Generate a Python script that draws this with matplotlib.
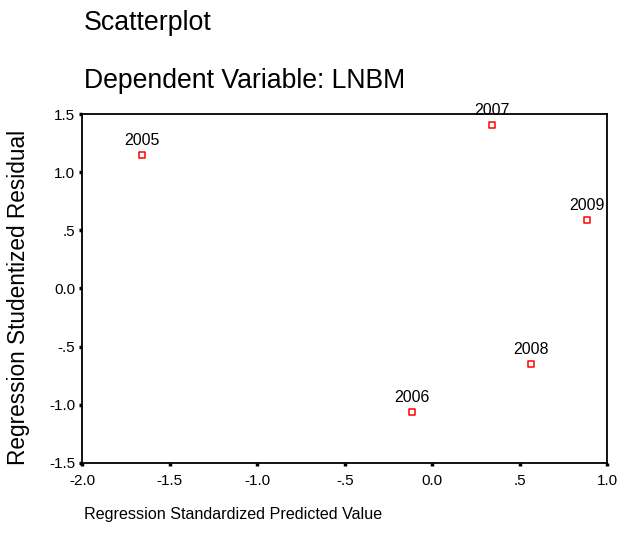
import matplotlib
matplotlib.use("Agg")
import matplotlib.pyplot as plt
import numpy as np

# === data ===
years = ['2005', '2006', '2007', '2008', '2009']
pred_std = [-1.66, -0.116, 0.341, 0.564, 0.884]      # Regression Standardized Predicted Value
resid_stud = [1.149, -1.06, 1.408, -0.651, 0.59]     # Regression Studentized Residual

x_ticks = [-2.0, -1.5, -1.0, -0.5, 0.0, 0.5, 1.0]
x_ticklabels = ['-2.0', '-1.5', '-1.0', '-.5', '0.0', '.5', '1.0']
y_ticks = [-1.5, -1.0, -0.5, 0.0, 0.5, 1.0, 1.5]
y_ticklabels = ['-1.5', '-1.0', '-.5', '0.0', '.5', '1.0', '1.5']

plt.rcParams['font.family'] = ['Liberation Sans', 'DejaVu Sans']

fig = plt.figure(figsize=(6.19, 5.44), dpi=100)
ax = fig.add_axes([0.133, 0.1495, 0.848, 0.6405])

# 标题
fig.text(84 / 619, 1 - 23 / 544, 'Scatterplot', fontsize=19.3, ha='left', va='center')
fig.text(84 / 619, 1 - 81 / 544, 'Dependent Variable: LNBM', fontsize=19.2, ha='left', va='center')

# 散点 (空心红方块)
ax.scatter(pred_std, resid_stud, marker='s', s=22, facecolor='white',
           edgecolor='#FF0000', linewidth=1.1, zorder=3)

for x, y, lab in zip(pred_std, resid_stud, years):
    ax.annotate(lab, xy=(x, y), xytext=(0, 5), textcoords='offset points',
                ha='center', va='bottom', fontsize=11.5, color='black')

ax.set_xlim(-2.0, 1.0)
ax.set_ylim(-1.5, 1.5)
ax.set_xticks(x_ticks)
ax.set_xticklabels(x_ticklabels)
ax.set_yticks(y_ticks)
ax.set_yticklabels(y_ticklabels)
ax.tick_params(direction='out', length=2, width=2.5, labelsize=11, pad=3)
ax.tick_params(axis='x', pad=6)

for sp in ax.spines.values():
    sp.set_linewidth(1.3)
    sp.set_color('black')

# 坐标轴标题
fig.text(84 / 619, 1 - 515 / 544, 'Regression Standardized Predicted Value',
         fontsize=11.6, ha='left', va='center')
fig.text(19 / 619, 1 - 297 / 544, 'Regression Studentized Residual',
         fontsize=16.3, ha='center', va='center', rotation=90)

fig.savefig('out.png', dpi=100)
